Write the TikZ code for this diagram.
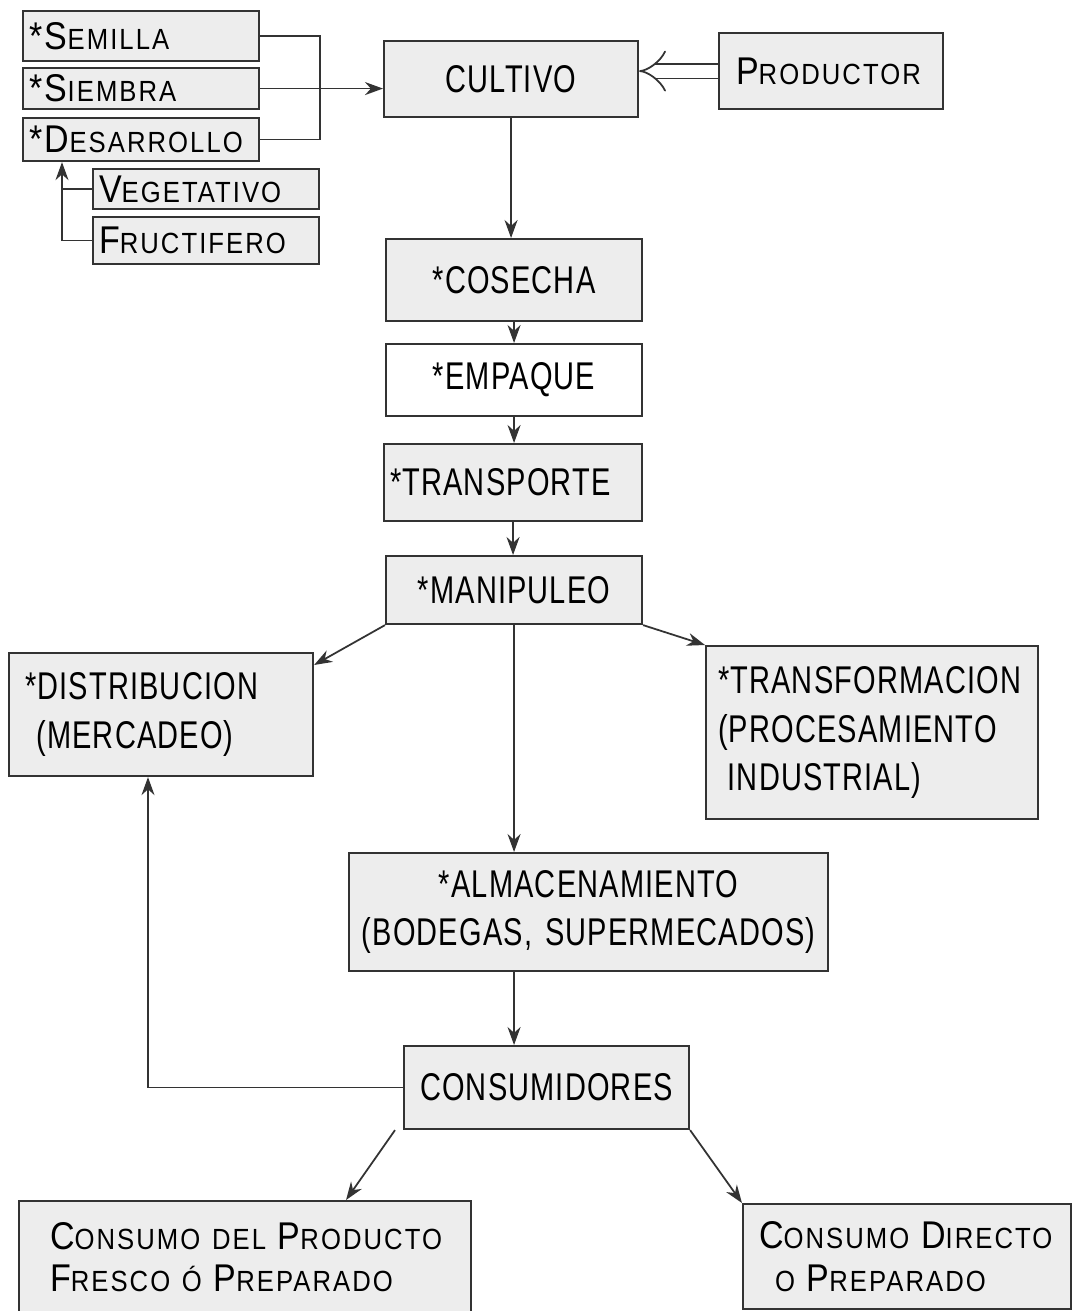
\documentclass[tikz,border=0pt]{standalone}
\usepackage{fontspec}
\setmainfont{Liberation Sans}[FakeStretch=0.75,LetterSpace=3]
\newfontfamily\scfont{Liberation Sans}[FakeStretch=0.88,LetterSpace=7]
\usetikzlibrary{arrows.meta}
\newcommand\capsc[2]{{\fontsize{11}{13}\selectfont #1}{\fontsize{8.3}{13}\selectfont #2}}

\begin{document}
\begin{tikzpicture}[x=0.1mm,y=-0.1mm,
    caja/.style={draw=black!80, fill=black!7, line width=0.6pt, anchor=north west,
      inner xsep=0.6mm, inner ysep=0pt, font=\fontsize{11}{13.8}\selectfont},
    cajasc/.style={caja, font=\scfont},
    flecha/.style={draw=black!80, line width=0.5pt, -{Stealth[length=1.8mm,width=1.3mm]}},
    linea/.style={draw=black!80, line width=0.5pt},
    doble/.style={draw=black!80, line width=0.5pt, double, double distance=1.3mm, -{Implies}}]
    \useasboundingbox[fill=white](0,0)rectangle(1073,1311);
    % etapas del cultivo
    \node[cajasc, text width=22.4mm, minimum height=5mm, align=left](sem) at(22,10) {\capsc{*S}{EMILLA}};
    \node[cajasc, text width=22.4mm, minimum height=4.1mm, align=left](sie) at(22,67) {\capsc{*S}{IEMBRA}};
    \node[cajasc, text width=22.4mm, minimum height=4.3mm, align=left](des) at(22,117) {\capsc{*D}{ESARROLLO}};
    \node[cajasc, text width=21.4mm, minimum height=4mm, align=left](veg) at(92,168) {\capsc{V}{EGETATIVO}};
    \node[cajasc, text width=21.4mm, minimum height=4.7mm, align=left](fru) at(92,216) {\capsc{F}{RUCTIFERO}};
    \node[caja, text width=24.2mm, minimum height=7.6mm, align=center](cul) at(383,40) {CULTIVO};
    \node[cajasc, text width=21.2mm, minimum height=7.6mm, align=left](pro) at(718,32) {\hspace*{1.1mm}\capsc{P}{RODUCTOR}};
    % cadena principal
    \node[caja, text width=24.4mm, minimum height=8.2mm, align=center](cos) at(385,238) {*COSECHA};
    \node[caja, fill=white, text width=24.4mm, minimum height=7.2mm, align=center](emp) at(385,343) {*EMPAQUE};
    \node[caja, text width=24.6mm, minimum height=7.7mm, align=left](tra) at(383,443) {*TRANSPORTE};
    \node[caja, text width=24.4mm, minimum height=6.8mm, align=center](man) at(385,555) {*MANIPULEO};
    \node[caja, text width=29.2mm, minimum height=12.3mm, align=left](dis) at(8,652)
      {\hspace*{1mm}*DISTRIBUCION\\\hspace*{1mm}\phantom{*}(MERCADEO)};
    \node[caja, text width=32mm, minimum height=17.3mm, align=left](tfm) at(705,645)
      {\hspace*{0.6mm}*TRANSFORMACION\\\hspace*{0.6mm}(PROCESAMIENTO\\\hspace*{0.6mm}\phantom{(}INDUSTRIAL)};
    \node[caja, text width=46.7mm, minimum height=11.8mm, align=center](alm) at(348,852)
      {*ALMACENAMIENTO\\(BODEGAS, SUPERMECADOS)};
    \node[caja, text width=27.3mm, minimum height=8.3mm, align=center](con) at(403,1045) {CONSUMIDORES};
    \node[cajasc, text width=44mm, minimum height=11.2mm, align=left](cdp) at(18,1200)
      {\hspace*{2.5mm}\capsc{C}{ONSUMO DEL} \capsc{P}{RODUCTO}\\\hspace*{2.5mm}\capsc{F}{RESCO Ó} \capsc{P}{REPARADO}};
    \node[cajasc, text width=31.6mm, minimum height=10.5mm, align=left](cdd) at(742,1203)
      {\hspace*{1mm}\capsc{C}{ONSUMO} \capsc{D}{IRECTO}\\\hspace*{2.6mm}\capsc{}{O} \capsc{P}{REPARADO}};

    \coordinate(jn) at(320,87);
    \coordinate(jd) at(62,200);
    \coordinate(jc) at(148,900);
    \draw[linea](sem.east) -| (jn) |- (des.east);
    \draw[flecha](sie.east) -- (sie.east -| cul.west);
    \draw[linea](veg.west) -- (veg.west -| jd);
    \draw[flecha](fru.west) -| (jd |- des.south);
    \draw[doble](pro.west) -- (cul.east |- pro.west);
    \foreach \a/\b in {cul/cos, cos/emp, emp/tra, tra/man}{
      \draw[flecha](\a.south) -- (\a.south |- \b.north);
    }
    \draw[flecha](man.south west) -- ([yshift=-1.3mm]dis.north east);
    \draw[flecha](man.south east) -- (tfm.north west);
    \draw[flecha](man.south) -- (man.south |- alm.north);
    \draw[flecha](alm.south -| man.south) -- (man.south |- con.north);
    \draw[flecha](con.west) -| (jc |- dis.south);
    \draw[flecha]([xshift=-0.8mm]con.south west) -- ([xshift=10.1mm]cdp.north);
    \draw[flecha](con.south east) -- (cdd.north west);
  \end{tikzpicture}
\end{document}
